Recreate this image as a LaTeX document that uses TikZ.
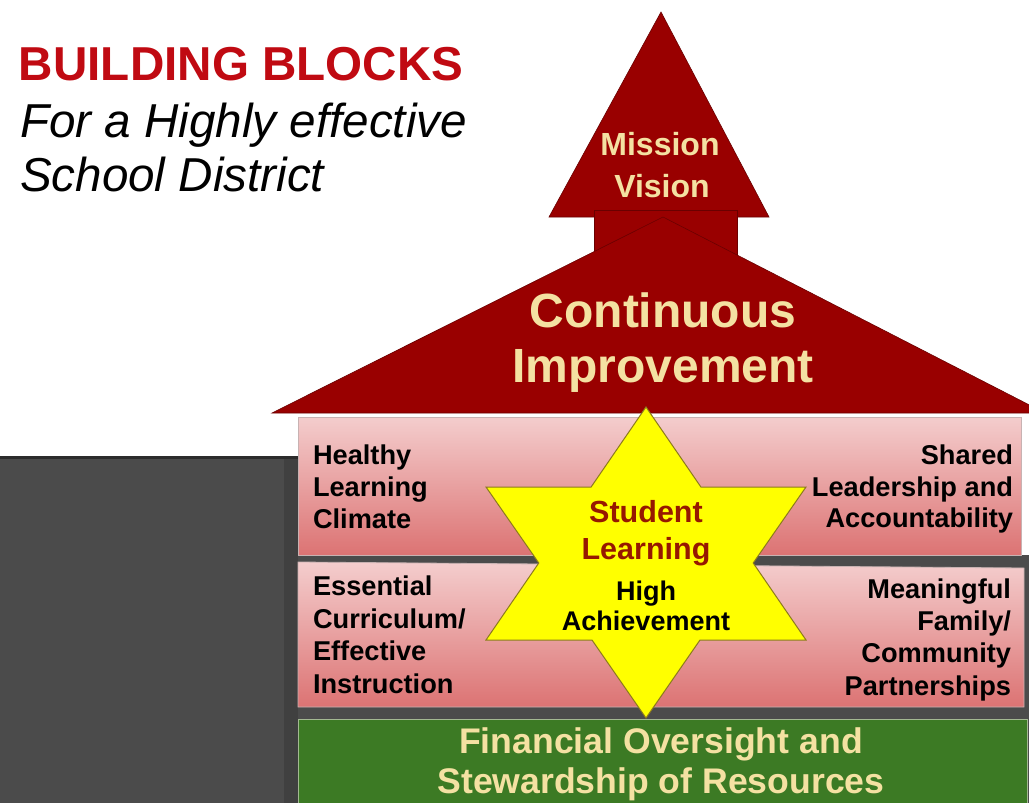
\documentclass[tikz,border=0pt]{standalone}
\usepackage{fontspec}
\setmainfont{Liberation Sans}
\definecolor{titlered}{HTML}{C00A12}
\definecolor{roofred}{HTML}{990000}
\definecolor{roofline}{HTML}{6A0000}
\definecolor{cream}{HTML}{F4E1A2}
\definecolor{starred}{HTML}{961800}
\definecolor{bggray}{HTML}{4B4B4B}
\definecolor{bgdark}{HTML}{2C2C2C}
\definecolor{pinktop}{HTML}{F4CDCD}
\definecolor{pinkbot}{HTML}{DC7373}
\definecolor{pinkline}{HTML}{C8B2B2}
\definecolor{greenbox}{HTML}{3C7A24}
\definecolor{greenline}{HTML}{A3B892}
\definecolor{staryellow}{HTML}{FFFF00}
\definecolor{starline}{HTML}{8C7A1E}
\tikzset{
  txt/.style={inner sep=0pt, outer sep=0pt},
  ttl/.style={txt, anchor=base west, text=titlered, font=\bfseries\fontsize{47.6}{50}\selectfont},
  sub/.style={txt, anchor=base west, text=black, font=\itshape\fontsize{47.6}{50}\selectfont},
  mv/.style={txt, anchor=base, text=cream, font=\bfseries\fontsize{32}{36}\selectfont},
  ci/.style={txt, anchor=base, text=cream, font=\bfseries\fontsize{48}{52}\selectfont},
  lft/.style={txt, anchor=base west, text=black, font=\bfseries\fontsize{27.2}{30}\selectfont},
  rgt/.style={txt, anchor=base east, text=black, font=\bfseries\fontsize{27.2}{30}\selectfont},
  stu/.style={txt, anchor=base, text=starred, font=\bfseries\fontsize{30.5}{33}\selectfont},
  ach/.style={txt, anchor=base, text=black, font=\bfseries\fontsize{27}{30}\selectfont},
  fin/.style={txt, anchor=base, text=cream, font=\bfseries\fontsize{35.6}{38}\selectfont},
  roof/.style={fill=roofred, draw=roofline, line width=0.6pt, line join=miter},
  pinkbox/.style={top color=pinktop, bottom color=pinkbot, draw=pinkline, line width=0.8pt},
  greenblock/.style={fill=greenbox, draw=greenline, line width=0.8pt},
  starshape/.style={fill=staryellow, draw=starline, line width=1pt, line join=miter}
}
\begin{document}
\begin{tikzpicture}[x=1pt, y=-1pt]
\useasboundingbox (0,0) rectangle (1029,803);
\fill[white] (0,0) rectangle (1029,803);
% gray background
\fill[bggray] (0,458) -- (298,458) -- (298,555) -- (1029,555) -- (1029,803) -- (0,803) -- cycle;
\fill[bggray!85!black] (284,458) rectangle (298,803);
\draw[bgdark, line width=3pt] (0,457) -- (298,457);
% boxes
\shade[pinkbox] (298,417) rectangle (1021,555);
\shade[pinkbox] (298,562) -- (1024,568) -- (1024,707) -- (298,707) -- cycle;
\path[greenblock] (298,719) rectangle (1027,803);
% roof
\path[roof] (661,12) -- (769,217) -- (549,217) -- cycle;
\path[roof] (594,210) rectangle (737,262);
\path[roof] (663,217) -- (1045,413) -- (272,413) -- cycle;
% star
\path[starshape] (646,407) -- (700.9,487) -- (806,487) -- (753.2,563) -- (806,640) -- (700,640)
  -- (646,718) -- (592,640) -- (486,640) -- (538.8,563) -- (486,487) -- (591.1,487) -- cycle;
% title
\node[ttl] (t1) at (19,80) {BUILDING BLOCKS};
\node[sub] (t2) at (20,137) {For a Highly effective};
\node[sub] (t3) at (20,191) {School District};
% roof texts
\node[mv] (m1) at (660,155) {Mission};
\node[mv] (m2) at (662,197) {Vision};
\node[ci] (c1) at (663,327) {Continuous};
\node[ci] (c2) at (663,382) {Improvement};
% box texts
\node[lft] (h1) at (313,464) {Healthy};
\node[lft] (h2) at (313,496) {Learning};
\node[lft] (h3) at (313,528) {Climate};
\node[rgt] (s1) at (1013,464) {Shared};
\node[rgt] (s2) at (1013,496) {Leadership and};
\node[rgt] (s3) at (1013,527) {Accountability};
\node[lft] (e1) at (313,595) {Essential};
\node[lft] (e2) at (313,628) {Curriculum/};
\node[lft] (e3) at (313,660) {Effective};
\node[lft] (e4) at (313,693) {Instruction};
\node[rgt] (f1) at (1011,598) {Meaningful};
\node[rgt] (f2) at (1011,630) {Family/};
\node[rgt] (f3) at (1011,662) {Community};
\node[rgt] (f4) at (1011,695) {Partnerships};
% star texts
\node[stu] (st1) at (646,522) {Student};
\node[stu] (st2) at (646,559) {Learning};
\node[ach] (a1) at (646,600) {High};
\node[ach] (a2) at (646,630) {Achievement};
% green texts
\node[fin] (g1) at (661,753) {Financial Oversight and};
\node[fin] (g2) at (661,793) {Stewardship of Resources};
\end{tikzpicture}
\end{document}
